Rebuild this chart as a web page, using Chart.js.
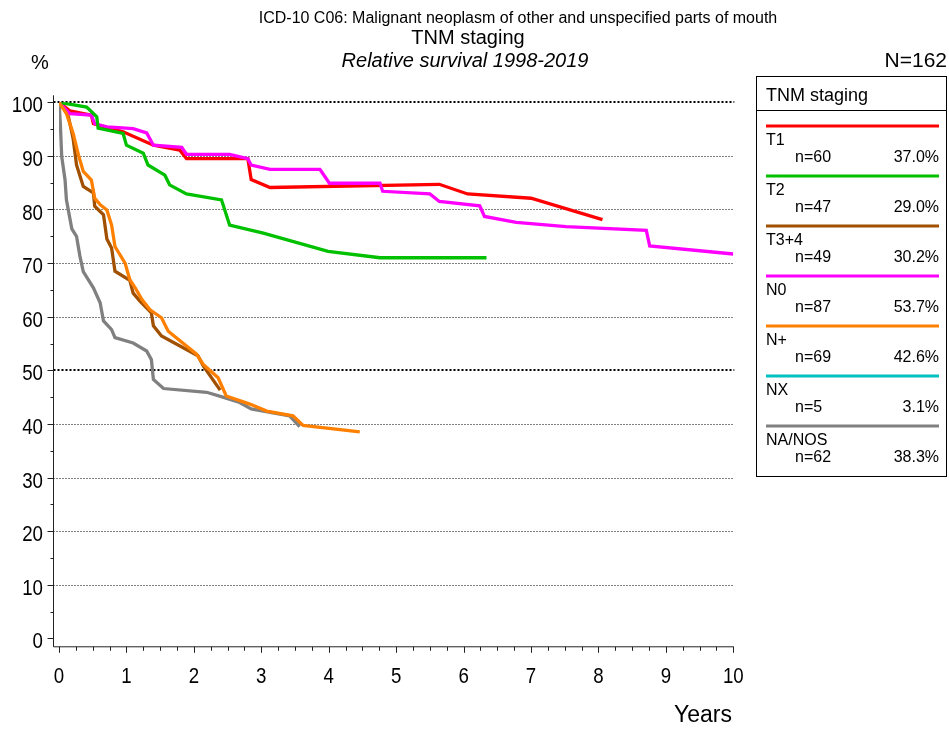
<!DOCTYPE html>
<html>
<head>
<meta charset="utf-8">
<title>C06 relative survival by TNM staging</title>
<script src="https://cdn.jsdelivr.net/npm/chart.js@4.4.1/dist/chart.umd.min.js"></script>
<style>
  html, body { margin: 0; padding: 0; background: #fff; }
  #wrap { width: 949px; height: 729px; }
</style>
</head>
<body>
<div id="wrap"><canvas id="survivalChart" width="949" height="729"></canvas></div>
<script>
// Groups shown in the legend
const groups = ['T1', 'T2', 'T3+4', 'N0', 'N+', 'NX', 'NA/NOS'];
const groupCounts = [60, 47, 49, 87, 69, 5, 62];
const groupShares = ['37.0%', '29.0%', '30.2%', '53.7%', '42.6%', '3.1%', '38.3%'];
const groupColors = ['#ff0000', '#00c000', '#a05000', '#ff00ff', '#ff8000', '#00c0c0', '#808080'];
const totalN = 162;

// Relative survival curves (years since diagnosis, %)
const t1Years = [0, 0.16, 0.48, 0.51, 0.95, 1.40, 1.79, 1.89, 2.80, 2.85, 3.13, 5.64, 6.06, 7.0, 8.06];
const t1Surv  = [100, 98.4, 97.6, 96.0, 94.5, 92.0, 91.1, 89.5, 89.5, 85.6, 84.1, 84.7, 82.9, 82.1, 78.1];

const t2Years = [0, 0.41, 0.56, 0.58, 0.95, 1.0, 1.25, 1.32, 1.57, 1.64, 1.89, 2.41, 2.53, 3.03, 3.99, 4.76, 6.34];
const t2Surv  = [100, 99.1, 97.3, 95.2, 94.2, 92.0, 90.5, 88.3, 86.4, 84.6, 82.9, 81.8, 77.1, 75.6, 72.2, 71.0, 71.0];

const t34Years = [0, 0.09, 0.14, 0.21, 0.26, 0.36, 0.51, 0.53, 0.66, 0.71, 0.78, 0.83, 1.05, 1.10, 1.20, 1.37, 1.40, 1.52, 2.06, 2.14, 2.39];
const t34Surv  = [100, 98.5, 97.3, 93.2, 88.3, 84.3, 83.1, 80.6, 79.0, 74.5, 72.8, 68.5, 66.8, 64.4, 62.9, 60.7, 58.3, 56.4, 52.7, 50.8, 46.3];

const n0Years = [0, 0.16, 0.48, 0.53, 0.71, 1.10, 1.30, 1.40, 1.82, 1.89, 2.53, 2.80, 2.85, 3.13, 3.87, 4.01, 4.76, 4.80, 5.50, 5.64, 6.24, 6.31, 6.78, 7.52, 8.71, 8.76, 10.0];
const n0Surv  = [100, 97.9, 97.6, 96.0, 95.4, 95.1, 94.3, 92.0, 91.6, 90.3, 90.3, 89.5, 88.3, 87.5, 87.5, 84.9, 84.9, 83.4, 82.9, 81.5, 80.7, 78.7, 77.6, 76.8, 76.1, 73.2, 71.7];

const nPlusYears = [0, 0.11, 0.21, 0.29, 0.36, 0.48, 0.53, 0.61, 0.71, 0.78, 0.83, 0.98, 1.05, 1.13, 1.23, 1.35, 1.52, 1.62, 2.04, 2.14, 2.36, 2.48, 2.83, 3.08, 3.47, 3.62, 4.46];
const nPlusSurv  = [100, 97.9, 94.2, 90.1, 87.1, 85.5, 82.1, 80.9, 79.9, 77.1, 73.1, 70.0, 66.9, 65.4, 63.2, 61.3, 59.8, 57.3, 53.0, 51.1, 48.6, 45.2, 43.7, 42.4, 41.5, 39.7, 38.5];

// NX has too few cases for a curve
const nxYears = [];
const nxSurv  = [];

const naYears = [0, 0.02, 0.04, 0.09, 0.11, 0.19, 0.26, 0.31, 0.36, 0.51, 0.61, 0.66, 0.78, 0.83, 1.10, 1.30, 1.37, 1.40, 1.55, 2.19, 2.43, 2.68, 2.85, 3.42, 3.57];
const naSurv  = [100, 96.0, 89.9, 85.5, 81.8, 76.4, 75.0, 71.3, 68.4, 65.4, 62.6, 59.2, 57.6, 56.1, 55.1, 53.6, 52.0, 48.3, 46.6, 45.9, 45.0, 44.0, 42.8, 41.5, 39.5];

const seriesYears = [t1Years, t2Years, t34Years, n0Years, nPlusYears, nxYears, naYears];
const seriesSurv = [t1Surv, t2Surv, t34Surv, n0Surv, nPlusSurv, nxSurv, naSurv];
// draw order, lower number ends up on top
const drawOrder = [3, 1, 4, 2, 0, 5, 6];

// Axis ticks
const xTicks = [0, 1, 2, 3, 4, 5, 6, 7, 8, 9, 10];
const yTicks = [0, 10, 20, 30, 40, 50, 60, 70, 80, 90, 100];

const FONT = "'Liberation Sans', Arial, Helvetica, sans-serif";

function squishedText(ctx, text, x, y, align, size) {
    ctx.save();
    ctx.translate(x, y);
    ctx.scale(0.85, 1);
    ctx.font = size + 'px ' + FONT;
    ctx.textAlign = align;
    ctx.textBaseline = 'alphabetic';
    ctx.fillText(text, 0, 0);
    ctx.restore();
}

const survivalFrame = {
    id: 'survivalFrame',
    beforeDatasetsDraw(chart) {
        const { ctx, chartArea, scales: { x, y } } = chart;
        const axisX = chartArea.left - 5.5;
        ctx.save();
        ctx.strokeStyle = '#000';
        yTicks.forEach(v => {
            if (v === 0) return;
            const heavy = (v === 50 || v === 100);
            const py = Math.round(y.getPixelForValue(v)) + (heavy ? 0 : 0.5);
            ctx.lineWidth = heavy ? 2 : 1;
            ctx.setLineDash(heavy ? [2, 2] : [1, 2]);
            ctx.beginPath();
            ctx.moveTo(axisX, py);
            ctx.lineTo(x.getPixelForValue(10) + 1, py);
            ctx.stroke();
        });
        ctx.restore();
    },
    afterDraw(chart) {
        const { ctx, chartArea, scales: { x, y } } = chart;
        const axisX = chartArea.left - 5.5;
        const axisY = chartArea.bottom + 8.5;
        ctx.save();
        ctx.strokeStyle = '#222';
        ctx.fillStyle = '#000';
        ctx.lineWidth = 1;
        ctx.setLineDash([]);

        // axis lines
        ctx.beginPath();
        ctx.moveTo(axisX, chartArea.top - 7);
        ctx.lineTo(axisX, axisY);
        ctx.lineTo(x.getPixelForValue(10) + 0.5, axisY);
        ctx.stroke();

        // y ticks every 5, labels every 10
        for (let v = 0; v <= 100; v += 5) {
            const py = Math.round(y.getPixelForValue(v)) + 0.5;
            const len = v % 10 === 0 ? 6 : 3;
            ctx.beginPath();
            ctx.moveTo(axisX - len, py);
            ctx.lineTo(axisX, py);
            ctx.stroke();
        }
        yTicks.forEach(v => {
            squishedText(ctx, String(v), 43, y.getPixelForValue(v) + 10, 'right', 22);
        });

        // x ticks every quarter year
        for (let q = 0; q <= 40; q++) {
            const px = Math.round(x.getPixelForValue(q / 4)) + 0.5;
            const len = q % 4 === 0 ? 6 : 4;
            ctx.beginPath();
            ctx.moveTo(px, axisY);
            ctx.lineTo(px, axisY + len);
            ctx.stroke();
        }
        xTicks.forEach(v => {
            squishedText(ctx, String(v), x.getPixelForValue(v), 683, 'center', 22);
        });

        // axis titles
        ctx.font = '23px ' + FONT;
        ctx.textAlign = 'right';
        ctx.fillText('Years', 732, 722);
        ctx.textAlign = 'left';
        ctx.font = '20px ' + FONT;
        ctx.fillText('%', 31, 69);

        // headings
        ctx.textAlign = 'center';
        ctx.font = '16px ' + FONT;
        ctx.fillText('ICD-10 C06: Malignant neoplasm of other and unspecified parts of mouth', 518, 23);
        ctx.font = '20px ' + FONT;
        ctx.fillText('TNM staging', 468, 44);
        ctx.font = 'italic 20px ' + FONT;
        ctx.fillText('Relative survival 1998-2019', 465, 67);
        ctx.textAlign = 'right';
        ctx.font = '21px ' + FONT;
        ctx.fillText('N=' + totalN, 947, 67);

        // legend box
        ctx.strokeStyle = '#000';
        ctx.lineWidth = 1;
        ctx.strokeRect(756.5, 76.5, 190, 400);
        ctx.beginPath();
        ctx.moveTo(756.5, 110.5);
        ctx.lineTo(946.5, 110.5);
        ctx.stroke();
        ctx.textAlign = 'left';
        ctx.font = '18px ' + FONT;
        ctx.fillText('TNM staging', 766, 101);

        groups.forEach((name, i) => {
            const ly = 126 + 50 * i;
            ctx.strokeStyle = groupColors[i];
            ctx.lineWidth = 3;
            ctx.beginPath();
            ctx.moveTo(766, ly);
            ctx.lineTo(939, ly);
            ctx.stroke();
            ctx.fillStyle = '#000';
            ctx.font = '16px ' + FONT;
            ctx.textAlign = 'left';
            ctx.fillText(name, 766, ly + 19);
            ctx.fillText('n=' + groupCounts[i], 795, ly + 36);
            ctx.textAlign = 'right';
            ctx.fillText(groupShares[i], 939, ly + 36);
        });
        ctx.restore();
    }
};

document.addEventListener('DOMContentLoaded', function() {
    const datasets = groups.map((name, i) => ({
        label: name,
        data: seriesYears[i].map((yr, j) => ({ x: yr, y: seriesSurv[i][j] })),
        borderColor: groupColors[i],
        backgroundColor: groupColors[i],
        borderWidth: 3.3,
        pointRadius: 0,
        tension: 0,
        fill: false,
        order: drawOrder[i]
    }));

    const ctx = document.getElementById('survivalChart').getContext('2d');
    new Chart(ctx, {
        type: 'line',
        data: { datasets: datasets },
        options: {
            responsive: false,
            animation: false,
            devicePixelRatio: 1,
            layout: {
                padding: { left: 59, right: 215.7, top: 102.3, bottom: 90.7 }
            },
            scales: {
                x: { type: 'linear', min: 0, max: 10, display: false },
                y: { type: 'linear', min: 0, max: 100, display: false }
            },
            plugins: {
                legend: { display: false },
                tooltip: { enabled: false }
            }
        },
        plugins: [survivalFrame]
    });
});
</script>
</body>
</html>
